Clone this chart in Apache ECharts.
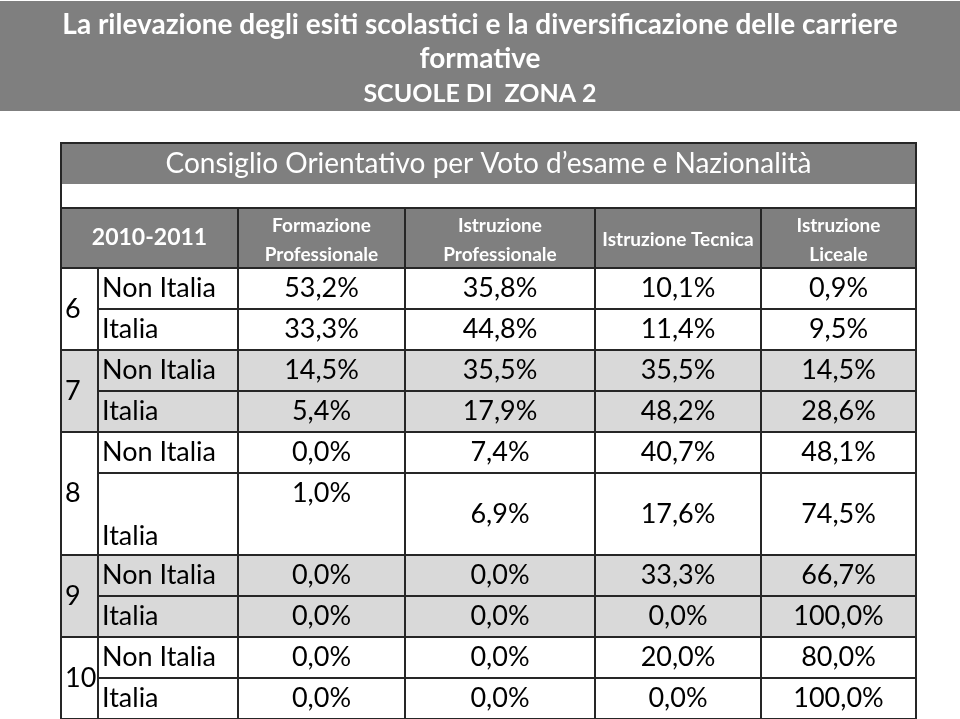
<!DOCTYPE html>
<html>
<head>
<meta charset="utf-8">
<script src="https://cdn.jsdelivr.net/npm/echarts@6/dist/echarts.min.js"></script>
<style>
html,body{margin:0;padding:0;background:#fff;}
#chart{width:960px;height:719px;}
</style>
</head>
<body>
<div id="chart"></div>
<script>
// ---- data ----
const titleLines = ['La rilevazione degli esiti scolastici e la diversificazione delle carriere', 'formative', 'SCUOLE DI  ZONA 2'];
const tableTitle = 'Consiglio Orientativo per Voto d\u2019esame e Nazionalità';
const yearLabel = '2010-2011';
const columns = ['Formazione\nProfessionale', 'Istruzione\nProfessionale', 'Istruzione Tecnica', 'Istruzione\nLiceale'];
const votes = ['6', '7', '8', '9', '10'];
const nationalities = ['Non Italia', 'Italia'];
const formazioneProfessionale = [53.2, 33.3, 14.5, 5.4, 0.0, 1.0, 0.0, 0.0, 0.0, 0.0];
const istruzioneProfessionale = [35.8, 44.8, 35.5, 17.9, 7.4, 6.9, 0.0, 0.0, 0.0, 0.0];
const istruzioneTecnica = [10.1, 11.4, 35.5, 48.2, 40.7, 17.6, 33.3, 0.0, 20.0, 0.0];
const istruzioneLiceale = [0.9, 9.5, 14.5, 28.6, 48.1, 74.5, 66.7, 100.0, 80.0, 100.0];
const seriesValues = [formazioneProfessionale, istruzioneProfessionale, istruzioneTecnica, istruzioneLiceale];

// ---- layout (not data) ----
const colWidths = [37, 140, 167, 190, 166, 155];
const rowHeights = [41, 24, 60, 41, 41, 41, 41, 41, 82, 41, 41, 41, 41];
const shadedGroups = [1, 3];
const titleSizes = [28, 28, 25];
const titleTops = [11, 45, 81];
const HEADER_GREY = '#7f7f7f';
const ROW_GREY = '#d9d9d9';
const LINE = '#262626';
const FONT = 'Lato, "Open Sans", sans-serif';

const xEdges = [0]; colWidths.forEach(w => xEdges.push(xEdges[xEdges.length - 1] + w));
const yEdges = [0]; rowHeights.forEach(h => yEdges.push(yEdges[yEdges.length - 1] + h));
const nCols = colWidths.length;

function fmt(v) { return v.toFixed(1).replace('.', ',') + '%'; }

const cells = [];
function addCell(c0, c1, r0, r1, opts) {
  cells.push(Object.assign({ c0, c1, r0, r1 }, opts));
}
// table title row
addCell(0, nCols, 0, 1, { fill: HEADER_GREY, text: tableTitle, color: '#fff', size: 28, weight: 'normal', align: 'center', valign: 'middle', noStroke: true });
// blank row
addCell(0, nCols, 1, 2, { fill: '#fff', text: '', noStroke: true });
// header row
addCell(0, 2, 2, 3, { fill: HEADER_GREY, text: yearLabel, color: '#fff', size: 23, weight: 'bold', align: 'center', valign: 'middle' });
columns.forEach((name, i) => {
  addCell(2 + i, 3 + i, 2, 3, { fill: HEADER_GREY, text: name, color: '#fff', size: 19, weight: 'bold', align: 'center', valign: 'middle', lineHeight: 29, dy: 2 });
});
// data rows
votes.forEach((vote, g) => {
  const fill = shadedGroups.indexOf(g) >= 0 ? ROW_GREY : '#fff';
  const r0 = 3 + g * 2;
  addCell(0, 1, r0, r0 + 2, { fill, text: vote, color: '#000', size: 27, weight: 'normal', align: 'left', valign: 'middle' });
  nationalities.forEach((nat, k) => {
    const idx = g * 2 + k;
    const r = r0 + k;
    const tall = rowHeights[r] > 50;
    addCell(1, 2, r, r + 1, { fill, text: nat, color: '#000', size: 27, weight: 'normal', align: 'left', valign: tall ? 'bottom' : 'middle' });
    seriesValues.forEach((vals, c) => {
      const v = vals[idx];
      addCell(2 + c, 3 + c, r, r + 1, { fill, text: fmt(v), color: '#000', size: 27, weight: 'normal', align: 'center', valign: tall ? (c === 0 ? 'top' : 'middle') : 'middle' });
    });
  });
});

const chartData = cells.map(c => [xEdges[c.c0], yEdges[c.r0], xEdges[c.c1], yEdges[c.r1]]);

const chart = echarts.init(document.getElementById('chart'));
chart.setOption({
  animation: false,
  backgroundColor: '#fff',
  graphic: [{
    type: 'rect', left: 0, top: 1, z: -10,
    shape: { width: 960, height: 110 },
    style: { fill: HEADER_GREY }
  }],
  title: titleLines.map((t, i) => ({
    text: t, left: 'center', top: titleTops[i], padding: 0,
    textStyle: { color: '#fff', fontFamily: FONT, fontWeight: 'bold', fontSize: titleSizes[i] }
  })),
  grid: { left: 61, top: 143, width: 855, height: 576, containLabel: false },
  xAxis: { type: 'value', min: 0, max: xEdges[xEdges.length - 1], show: false },
  yAxis: { type: 'value', min: 0, max: yEdges[yEdges.length - 1], inverse: true, show: false },
  series: [{
    type: 'custom',
    silent: true,
    clip: false,
    data: chartData,
    renderItem: function (params, api) {
      const cell = cells[params.dataIndex];
      const p0 = api.coord([api.value(0), api.value(1)]);
      const p1 = api.coord([api.value(2), api.value(3)]);
      const x = p0[0], y = p0[1], w = p1[0] - p0[0], h = p1[1] - p0[1];
      const children = [{
        type: 'rect',
        shape: { x, y, width: w, height: h },
        style: { fill: cell.fill, stroke: cell.noStroke ? null : LINE, lineWidth: 2 }
      }];
      if (cell.text) {
        let tx = x + w / 2, ty = y + h / 2 + (cell.dy || 0);
        if (cell.align === 'left') tx = x + 4;
        if (cell.valign === 'top') ty = y + 4;
        if (cell.valign === 'bottom') ty = y + h - 3;
        children.push({
          type: 'text',
          z2: 10,
          style: {
            text: cell.text, x: tx, y: ty,
            align: cell.align, verticalAlign: cell.valign,
            fill: cell.color, fontFamily: FONT, fontSize: cell.size, fontWeight: cell.weight,
            lineHeight: cell.lineHeight || cell.size * 1.2
          }
        });
      }
      return { type: 'group', children };
    }
  }, {
    // outer frame
    type: 'custom', silent: true, clip: false, z: 5,
    data: [[0, 0, xEdges[xEdges.length - 1], yEdges[yEdges.length - 1]]],
    renderItem: function (params, api) {
      const p0 = api.coord([api.value(0), api.value(1)]);
      const p1 = api.coord([api.value(2), api.value(3)]);
      return { type: 'rect', shape: { x: p0[0], y: p0[1], width: p1[0] - p0[0], height: p1[1] - p0[1] }, style: { fill: null, stroke: LINE, lineWidth: 2 } };
    }
  }]
});
</script>
</body>
</html>
